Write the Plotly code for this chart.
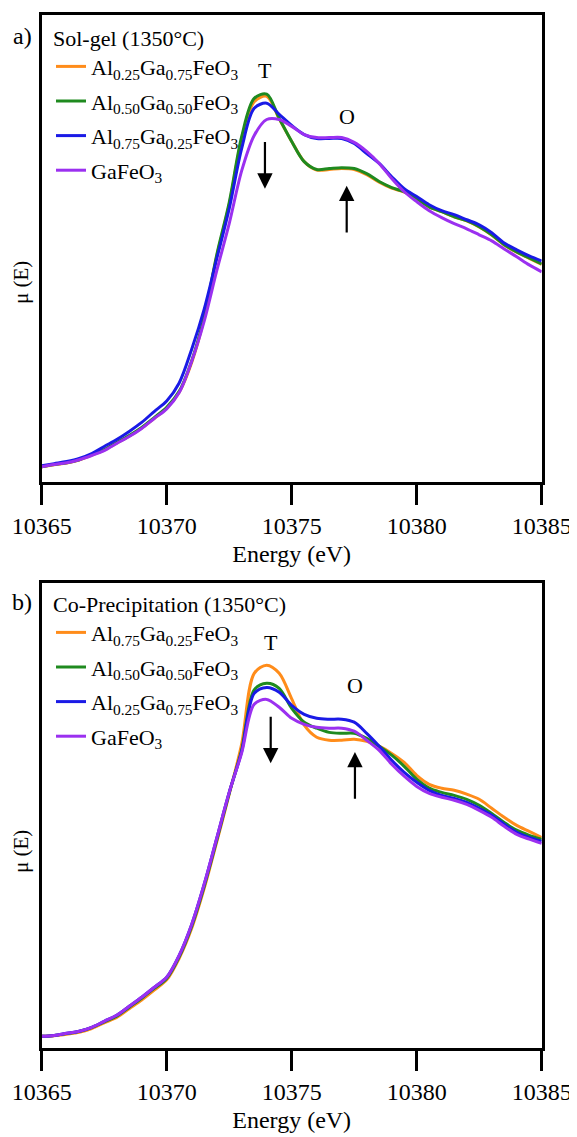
import plotly.graph_objects as go

# ---------------- data ----------------
energy = [10365.0, 10365.5, 10366.0, 10366.5, 10367.0, 10367.5, 10368.0, 10368.5, 10369.0, 10369.5,
          10370.0, 10370.5, 10371.0, 10371.5, 10372.0, 10372.5, 10373.0, 10373.5, 10374.0, 10374.5,
          10375.0, 10375.5, 10376.0, 10376.5, 10377.0, 10377.5, 10378.0, 10378.5, 10379.0, 10379.5,
          10380.0, 10380.5, 10381.0, 10381.5, 10382.0, 10382.5, 10383.0, 10383.5, 10384.0, 10384.5,
          10385.0]

# (a) Sol-gel
sg_al025 = [0.050, 0.056, 0.062, 0.072, 0.088, 0.105, 0.128, 0.151, 0.178, 0.210,
            0.244, 0.297, 0.396, 0.543, 0.748, 0.920, 1.137, 1.262, 1.280, 1.205,
            1.130, 1.063, 1.035, 1.037, 1.040, 1.037, 1.020, 0.995, 0.975, 0.962,
            0.940, 0.913, 0.897, 0.880, 0.866, 0.846, 0.819, 0.786, 0.762, 0.742,
            0.722]
sg_al050 = [0.050, 0.057, 0.063, 0.073, 0.090, 0.107, 0.130, 0.153, 0.180, 0.213,
            0.247, 0.300, 0.402, 0.547, 0.753, 0.927, 1.147, 1.273, 1.287, 1.207,
            1.130, 1.063, 1.037, 1.040, 1.043, 1.040, 1.023, 0.997, 0.977, 0.963,
            0.940, 0.913, 0.897, 0.880, 0.867, 0.847, 0.820, 0.787, 0.763, 0.743,
            0.723]
sg_al075 = [0.053, 0.060, 0.067, 0.077, 0.093, 0.117, 0.140, 0.167, 0.197, 0.233,
            0.268, 0.328, 0.440, 0.573, 0.740, 0.907, 1.107, 1.240, 1.257, 1.220,
            1.183, 1.153, 1.140, 1.140, 1.140, 1.123, 1.090, 1.057, 1.013, 0.973,
            0.947, 0.920, 0.900, 0.887, 0.870, 0.853, 0.827, 0.793, 0.770, 0.750,
            0.733]
sg_gafeo3 = [0.050, 0.057, 0.063, 0.073, 0.087, 0.103, 0.127, 0.150, 0.177, 0.210,
             0.242, 0.296, 0.400, 0.533, 0.700, 0.857, 1.033, 1.150, 1.203, 1.203,
             1.180, 1.153, 1.143, 1.143, 1.143, 1.127, 1.097, 1.057, 1.007, 0.963,
             0.930, 0.900, 0.877, 0.857, 0.840, 0.820, 0.800, 0.773, 0.747, 0.720,
             0.697]

# (b) Co-precipitation
cp_al075 = [0.040, 0.042, 0.047, 0.053, 0.066, 0.085, 0.103, 0.132, 0.161, 0.194,
            0.228, 0.300, 0.400, 0.533, 0.687, 0.847, 1.015, 1.250, 1.277, 1.250,
            1.165, 1.077, 1.037, 1.027, 1.027, 1.030, 1.023, 1.007, 0.983, 0.953,
            0.910, 0.880, 0.867, 0.860, 0.847, 0.830, 0.800, 0.770, 0.743, 0.723,
            0.703]
cp_al050 = [0.040, 0.043, 0.049, 0.056, 0.069, 0.088, 0.107, 0.137, 0.167, 0.200,
            0.233, 0.305, 0.407, 0.540, 0.693, 0.850, 0.995, 1.195, 1.217, 1.200,
            1.133, 1.087, 1.067, 1.053, 1.050, 1.050, 1.033, 1.007, 0.977, 0.940,
            0.897, 0.867, 0.853, 0.843, 0.830, 0.810, 0.783, 0.753, 0.727, 0.710,
            0.697]
cp_al025 = [0.040, 0.043, 0.050, 0.057, 0.070, 0.090, 0.110, 0.140, 0.170, 0.203,
            0.237, 0.310, 0.413, 0.547, 0.700, 0.853, 0.990, 1.183, 1.203, 1.187,
            1.143, 1.113, 1.100, 1.097, 1.097, 1.087, 1.050, 1.007, 0.960, 0.920,
            0.887, 0.860, 0.843, 0.833, 0.820, 0.800, 0.777, 0.747, 0.720, 0.703,
            0.690]
cp_gafeo3 = [0.040, 0.043, 0.050, 0.057, 0.070, 0.090, 0.110, 0.140, 0.170, 0.203,
             0.237, 0.310, 0.413, 0.547, 0.700, 0.853, 0.985, 1.147, 1.163, 1.137,
             1.100, 1.080, 1.070, 1.067, 1.067, 1.057, 1.027, 0.993, 0.947, 0.907,
             0.873, 0.850, 0.837, 0.827, 0.813, 0.793, 0.770, 0.740, 0.713, 0.697,
             0.683]

names_a = ["Al<sub>0.25</sub>Ga<sub>0.75</sub>FeO<sub>3</sub>",
           "Al<sub>0.50</sub>Ga<sub>0.50</sub>FeO<sub>3</sub>",
           "Al<sub>0.75</sub>Ga<sub>0.25</sub>FeO<sub>3</sub>",
           "GaFeO<sub>3</sub>"]
names_b = ["Al<sub>0.75</sub>Ga<sub>0.25</sub>FeO<sub>3</sub>",
           "Al<sub>0.50</sub>Ga<sub>0.50</sub>FeO<sub>3</sub>",
           "Al<sub>0.25</sub>Ga<sub>0.75</sub>FeO<sub>3</sub>",
           "GaFeO<sub>3</sub>"]
series_a = [sg_al025, sg_al050, sg_al075, sg_gafeo3]
series_b = [cp_al075, cp_al050, cp_al025, cp_gafeo3]
colors = ["#FF8C1A", "#1F8A1F", "#1A1AE6", "#9B30F0"]

x_ticks = [10365, 10370, 10375, 10380, 10385]
# T / O feature markers: (energy, label y, arrow tail y, arrow head y)
feat_a = {"T": (10373.93, 1.367, 1.133, 0.973), "O": (10377.2, 1.213, 0.823, 0.983)}
feat_b = {"T": (10374.16, 1.354, 1.110, 0.950), "O": (10377.53, 1.210, 0.827, 0.988)}

# ---------------- figure ----------------
FONT = "Liberation Serif"
OFF = 8                       # page body margin in the browser
W, H = 577 - OFF, 1137 - OFF


def px2x(px):
    return (px - OFF) / W


def py2y(py):
    return 1 - (py - OFF) / H


fig = go.Figure()
for ys, nm, c, i in zip(series_a, names_a, colors, range(4)):
    fig.add_trace(go.Scatter(x=energy, y=ys, name=nm, mode="lines",
                             line=dict(color=c, width=3, shape="spline", smoothing=0.9),
                             xaxis="x", yaxis="y", legend="legend", legendgroup=f"a{i}"))
for ys, nm, c, i in zip(series_b, names_b, colors, range(4)):
    fig.add_trace(go.Scatter(x=energy, y=ys, name=nm, mode="lines",
                             line=dict(color=c, width=3, shape="spline", smoothing=0.9),
                             xaxis="x2", yaxis="y2", legend="legend2", legendgroup=f"b{i}"))

xdom = [px2x(41.7), px2x(541.7)]
ydom_a = [py2y(481.7), py2y(15)]
ydom_b = [py2y(1048.3), py2y(583.3)]


def xax(domain, anchor):
    return dict(domain=domain, anchor=anchor, range=[10365, 10385], tickvals=x_ticks,
                ticktext=[str(v) for v in x_ticks],
                showline=True, linecolor="black", linewidth=3, mirror=True,
                ticks="outside", ticklen=20, tickwidth=3, tickcolor="black",
                ticklabelstandoff=0,
                tickfont=dict(family=FONT, size=24, color="black"),
                title=dict(text="Energy (eV)", font=dict(family=FONT, size=24, color="black"),
                           standoff=8),
                showgrid=False, zeroline=False, automargin=False)


def yax(domain, anchor):
    return dict(domain=domain, anchor=anchor, range=[0, 1.55],
                showline=True, linecolor="black", linewidth=3, mirror=True,
                ticks="", showticklabels=False,
                showgrid=False, zeroline=False, automargin=False)


def legend_cfg(title, ytop):
    return dict(title=dict(text=title, font=dict(family=FONT, size=22, color="black")),
                font=dict(family=FONT, size=22, color="black"),
                x=px2x(51), y=ytop, xanchor="left", yanchor="top",
                bgcolor="rgba(0,0,0,0)", borderwidth=0, tracegroupgap=3,
                itemwidth=30)


annotations = []
for (xr, yr, feats) in [("x", "y", feat_a), ("x2", "y2", feat_b)]:
    for lab, (ex, ly, tail, head) in feats.items():
        annotations.append(dict(x=ex, y=ly, xref=xr, yref=yr, text=lab, showarrow=False,
                                xanchor="center", yanchor="middle",
                                font=dict(family=FONT, size=22, color="black")))
        annotations.append(dict(x=ex, y=head, xref=xr, yref=yr, ax=ex, ay=tail,
                                axref=xr, ayref=yr, text="", showarrow=True,
                                arrowhead=2, arrowsize=1.4, arrowwidth=2.2,
                                arrowcolor="black", standoff=0))
for lab, (px, py) in {"a)": (22, 36), "b)": (22, 602)}.items():
    annotations.append(dict(x=px2x(px), y=py2y(py), xref="paper", yref="paper", text=lab,
                            xanchor="center", yanchor="middle", showarrow=False,
                            font=dict(family=FONT, size=24, color="black")))
for py in (283, 852):
    annotations.append(dict(x=px2x(21), y=py2y(py), xref="paper", yref="paper",
                            text="μ (E)", textangle=-90, showarrow=False,
                            xanchor="center", yanchor="middle", borderpad=0,
                            font=dict(family=FONT, size=21, color="black")))

fig.update_layout(
    width=W, height=H, margin=dict(l=0, r=0, t=0, b=0),
    font=dict(family=FONT, color="black"),
    paper_bgcolor="white", plot_bgcolor="white",
    xaxis=xax(xdom, "y"), yaxis=yax(ydom_a, "x"),
    xaxis2=xax(xdom, "y2"), yaxis2=yax(ydom_b, "x2"),
    legend=legend_cfg("Sol-gel (1350°C)", py2y(17)),
    legend2=legend_cfg("Co-Precipitation (1350°C)", py2y(583)),
    annotations=annotations,
    showlegend=True,
)

fig.write_html("out.html")
